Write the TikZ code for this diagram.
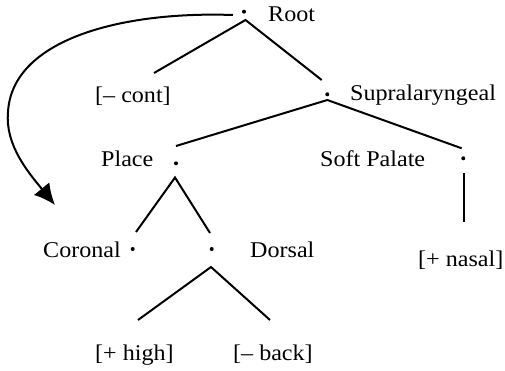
\documentclass[tikz,border=0pt]{standalone}
\usepackage{fontspec}
\setmainfont{Liberation Serif}[FakeStretch=1.07]
\usetikzlibrary{arrows.meta}
\begin{document}
\begin{tikzpicture}[x=1pt,y=-1pt,
  dotnode/.style={circle,fill=black,inner sep=0pt,minimum size=4pt},
  lbl/.style={anchor=base west,inner sep=0pt,font=\fontsize{22.5}{26}\selectfont},
  branch/.style={line width=2pt},
  curvearrow/.style={line width=2pt,-{Latex[length=21pt,width=20pt]}}]
\useasboundingbox (0,0) rectangle (505,370);
% dots
\node[dotnode] (rootd) at (244,11.7) {};
\node[dotnode] (supd) at (327.3,94.3) {};
\node[dotnode] (placed) at (176,163.3) {};
\node[dotnode] (softd) at (463.3,158.3) {};
\node[dotnode] (cord) at (132.7,249) {};
\node[dotnode] (dord) at (211.7,249) {};
% labels
\node[lbl] (root) at (268,21) {Root};
\node[lbl] (sup) at (350,100) {Supralaryngeal};
\node[lbl] (cont) at (95,102) {[– cont]};
\node[lbl] (place) at (101,166) {Place};
\node[lbl] (soft) at (320,166) {Soft Palate};
\node[lbl] (cor) at (43,257) {Coronal};
\node[lbl] (dor) at (250,257) {Dorsal};
\node[lbl] (nasal) at (418,266) {[+ nasal]};
\node[lbl] (high) at (95,360) {[+ high]};
\node[lbl] (back) at (233,360) {[– back]};
% branch points
\coordinate (rootA) at (245.5,20);
\coordinate (contT) at (154,73);
\coordinate (supT) at (321.7,80);
\coordinate (supA) at (327.3,100);
\coordinate (placeT) at (176,146);
\coordinate (softT) at (461.7,148.3);
\coordinate (softA) at (463.5,173);
\coordinate (nasalT) at (463.5,222);
\coordinate (placeA) at (175,177.5);
\coordinate (corT) at (136,232);
\coordinate (dorT) at (210,233);
\coordinate (dorA) at (211,267);
\coordinate (highT) at (138,320);
\coordinate (backT) at (270,320);
\coordinate (arrstart) at (233,15);
\coordinate (arrtip) at (55,205);
% branches
\draw[branch] (contT) -- (rootA) -- (supT);
\draw[branch] (placeT) -- (supA) -- (softT);
\draw[branch] (softA) -- (nasalT);
\draw[branch] (corT) -- (placeA) -- (dorT);
\draw[branch] (highT) -- (dorA) -- (backT);
% curved arrow
\draw[curvearrow] (arrstart) .. controls (120,11) and (12,40) .. (8,112)
  .. controls (5,145) and (28,172) .. (arrtip);
\end{tikzpicture}
\end{document}
